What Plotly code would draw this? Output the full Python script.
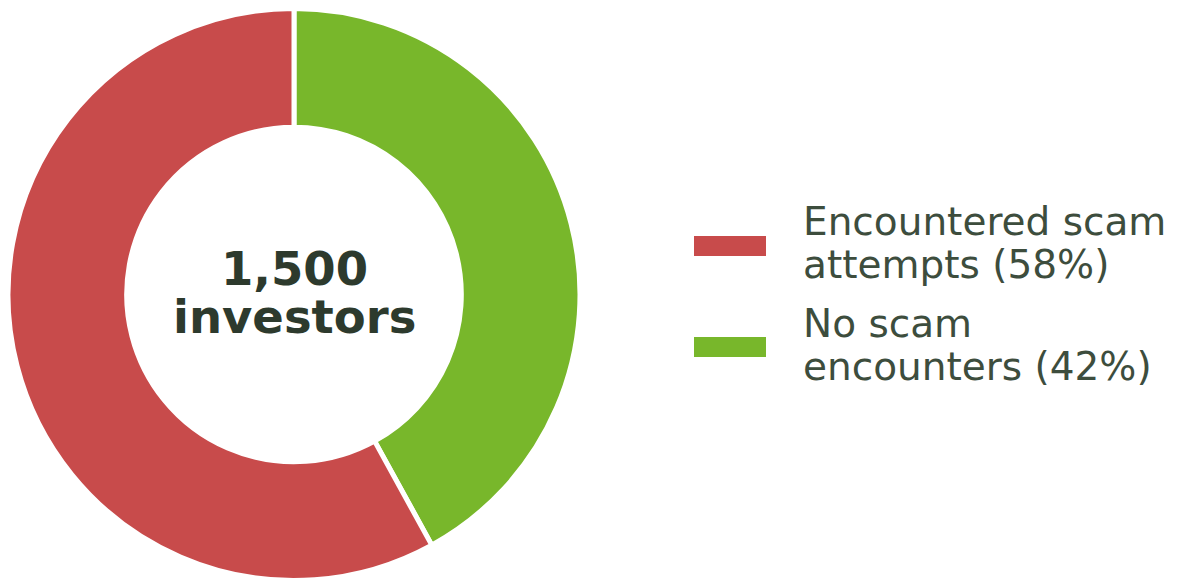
import plotly.graph_objects as go

# Survey breakdown (ring drawn clockwise from 12 o'clock, green first)
labels = ["No scam encounters", "Encountered scam attempts"]
values = [42, 58]
colors = ["#78b72b", "#c84b4b"]

# Legend entries, top to bottom
legend_colors = ["#c84b4b", "#78b72b"]
legend_lines = [
    ["Encountered scam", "attempts (58%)"],
    ["No scam", "encounters (42%)"],
]
center_lines = ["1,500", "investors"]

W, H = 1181, 581
FONT = "DejaVu Sans"

fig = go.Figure()
fig.add_trace(go.Pie(
    labels=labels,
    values=values,
    hole=0.585,
    sort=False,
    direction="clockwise",
    rotation=0,
    marker=dict(colors=colors, line=dict(color="white", width=5)),
    textinfo="none",
    hoverinfo="label+percent",
    showlegend=False,
    domain=dict(x=[8 / W, 580 / W], y=[0.0, 1 - 8 / H]),
))

# Centre label
cx = 294
for text, ymid in zip(center_lines, [269, 317]):
    fig.add_annotation(
        x=cx / W, y=1 - ymid / H, xref="paper", yref="paper",
        text=f"<b>{text}</b>", showarrow=False,
        xanchor="center", yanchor="middle",
        font=dict(family=FONT, size=46.5, color="#2d3a2d"),
    )

# Custom legend: wide swatches with two-line labels
swatch_y = [246, 347]
line_mid = [[221, 264], [323, 366]]
for color, sy, lines, mids in zip(legend_colors, swatch_y, legend_lines, line_mid):
    fig.add_shape(
        type="rect", xref="paper", yref="paper",
        x0=694 / W, x1=766 / W, y0=1 - (sy - 10) / H, y1=1 - (sy + 10) / H,
        fillcolor=color, line=dict(width=0),
    )
    for text, m in zip(lines, mids):
        fig.add_annotation(
            x=801 / W, y=1 - m / H, xref="paper", yref="paper",
            text=text, showarrow=False,
            xanchor="left", yanchor="middle",
            font=dict(family=FONT, size=39, color="#3d4d3d"),
        )

fig.update_layout(
    width=W, height=H,
    margin=dict(l=0, r=0, t=0, b=0),
    paper_bgcolor="white",
    plot_bgcolor="white",
)

fig.write_html("out.html")
